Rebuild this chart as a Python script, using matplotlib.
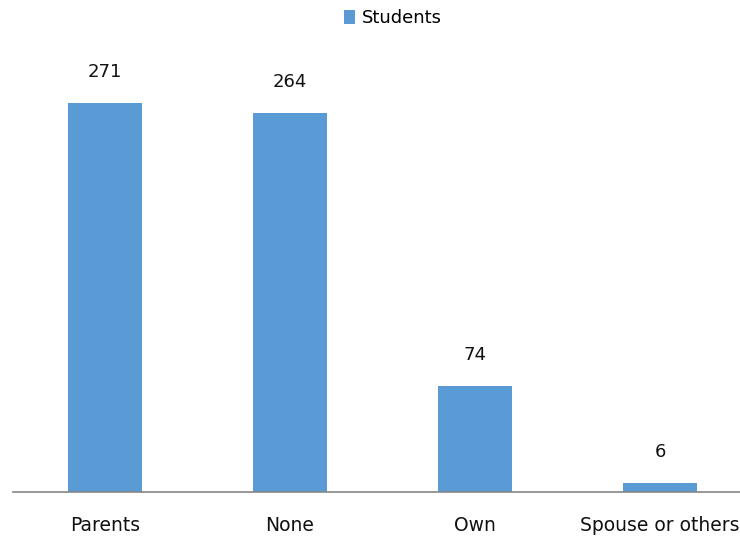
import matplotlib
matplotlib.use("Agg")
import matplotlib.pyplot as plt
from matplotlib.patches import Patch

categories = ["Parents", "None", "Own", "Spouse or others"]
students = [271, 264, 74, 6]
series_name = "Students"

plt.rcParams['font.family'] = ['DejaVu Sans']

fig = plt.figure(figsize=(7.4, 5.39), dpi=100)
W, H = 740, 539
left_px, right_px = 12.5, 740
base_px, top_px = 492, 40
ax = fig.add_axes([left_px / W, 1 - base_px / H, (right_px - left_px) / W, (base_px - top_px) / H])

color = "#5B9BD5"
x = list(range(len(categories)))
ax.bar(x, students, width=0.4, color=color, zorder=2)

ax.set_xlim(-0.5, -0.5 + (right_px - left_px) / 185)
ax.set_ylim(0, 315)

for xi, v in zip(x, students):
    ax.annotate(str(v), (xi, v), xytext=(0, 16), textcoords="offset points",
                ha="center", va="bottom", fontsize=13, color="#111111")

ax.set_xticks(x)
ax.set_xticklabels(categories, fontsize=13.5, color="#111111")
ax.tick_params(axis="x", length=0, pad=17)
ax.set_yticks([])
for s in ["top", "right", "left"]:
    ax.spines[s].set_visible(False)
ax.spines["bottom"].set_color("#868686")
ax.spines["bottom"].set_linewidth(1.2)

fig.legend(handles=[Patch(facecolor=color, label=series_name)], loc="center",
           bbox_to_anchor=(393 / W, 1 - 18 / H), frameon=False, fontsize=13,
           handlelength=0.6, handleheight=0.8, handletextpad=0.4)

fig.savefig("out.png", dpi=100)
